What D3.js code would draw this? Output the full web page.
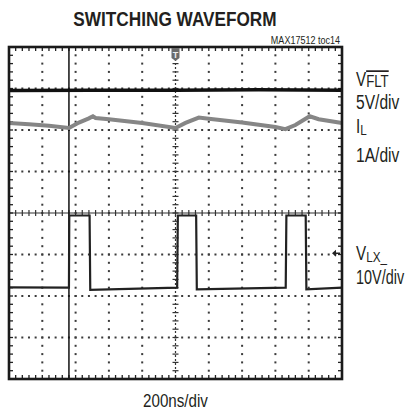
<!DOCTYPE html>
<html>
<head>
<meta charset="utf-8">
<script src="https://cdn.jsdelivr.net/npm/d3@7"></script>
<style>
  body { margin: 0; background: #fff; }
  text { font-family: "Liberation Sans", Arial, sans-serif; fill: #231f20; }
</style>
</head>
<body>
<div id="chart"></div>
<script>
// values, in divisions
// x: 0..10 (200ns/div), y: -4..4 measured from the centre line
const vfltX = [0, 2.5, 5, 7.5, 10]
const vfltY = [2.95, 2.96, 2.96, 2.97, 2.96]

const ilX = [0, 0.6, 1.2, 1.8, 2.1, 2.4, 2.52, 2.6, 3.0, 4.0, 5.0, 5.3, 5.7, 6.0, 7.0, 8.0, 8.3, 8.6, 9.03, 9.3, 10]
const ilY = [2.17, 2.14, 2.1, 2.05, 2.18, 2.28, 2.33, 2.29, 2.26, 2.17, 2.05, 2.17, 2.3, 2.27, 2.18, 2.07, 2.02, 2.12, 2.33, 2.26, 2.17]

const vlxX = [0, 1.8, 1.81, 2.42, 2.44, 5.05, 5.07, 5.62, 5.64, 8.31, 8.33, 8.91, 8.93, 10]
const vlxY = [-1.79, -1.8, -0.06, -0.06, -1.85, -1.8, -0.06, -0.06, -1.84, -1.8, -0.06, -0.06, -1.84, -1.8]

const cursorX = 1.8
const triggerX = 5
const refLevel = -0.97

const title = 'SWITCHING WAVEFORM'
const tag = 'MAX17512 toc14'
const xLabel = '200ns/div'
const labelMain = ['V', 'I', 'V']
const labelSub = ['FLT', 'L', 'LX_']
const labelScale = ['5V/div', '1A/div', '10V/div']

async function draw() {
  const width = 408
  const height = 411
  const plot = { left: 9, right: 342, top: 47, bottom: 379 }
  const narrow = 0.82   // condensed look, no narrow font installed

  const svg = d3.select('#chart')
    .append('svg')
    .attr('width', width)
    .attr('height', height)

  const xScale = d3.scaleLinear().domain([0, 10]).range([plot.left, plot.right])
  const yScale = d3.scaleLinear().domain([-4, 4]).range([plot.bottom, plot.top])

  const grid = svg.append('g').attr('fill', '#3a3a3a')

  // dotted division lines
  const xMinor = d3.range(0, 10.001, 0.2)
  const yMinor = d3.range(-4, 4.001, 0.2)
  for (let i = 1; i < 10; i++) {
    if (i === 5) continue
    grid.selectAll(null).data(yMinor).join('rect')
      .attr('x', xScale(i) - 1).attr('y', d => yScale(d) - 1)
      .attr('width', 2).attr('height', 2)
  }
  for (let j = -3; j <= 3; j++) {
    if (j === 0) continue
    grid.selectAll(null).data(xMinor).join('rect')
      .attr('x', d => xScale(d) - 1).attr('y', yScale(j) - 1)
      .attr('width', 2).attr('height', 2)
  }

  // centre axes with small ticks
  const axes = svg.append('g').attr('stroke', '#333').attr('stroke-width', 1.2)
  axes.append('line')
    .attr('x1', plot.left).attr('x2', plot.right)
    .attr('y1', yScale(0)).attr('y2', yScale(0))
  axes.selectAll(null).data(xMinor).join('line')
    .attr('x1', d => xScale(d)).attr('x2', d => xScale(d))
    .attr('y1', yScale(0) - 3).attr('y2', yScale(0) + 3)
  axes.append('line')
    .attr('x1', xScale(5)).attr('x2', xScale(5))
    .attr('y1', plot.top).attr('y2', plot.bottom)
    .attr('stroke-dasharray', '2,2')
  axes.selectAll(null).data(yMinor).join('line')
    .attr('x1', xScale(5) - 3).attr('x2', xScale(5) + 3)
    .attr('y1', d => yScale(d)).attr('y2', d => yScale(d))

  // ticks along the frame
  const edge = svg.append('g').attr('stroke', '#222').attr('stroke-width', 1.3)
  edge.selectAll(null).data(xMinor).join('line')
    .attr('x1', d => xScale(d)).attr('x2', d => xScale(d))
    .attr('y1', plot.top).attr('y2', plot.top + 4)
  edge.selectAll(null).data(xMinor).join('line')
    .attr('x1', d => xScale(d)).attr('x2', d => xScale(d))
    .attr('y1', plot.bottom).attr('y2', plot.bottom - 4)
  edge.selectAll(null).data(yMinor).join('line')
    .attr('x1', plot.left).attr('x2', plot.left + 4)
    .attr('y1', d => yScale(d)).attr('y2', d => yScale(d))
  edge.selectAll(null).data(yMinor).join('line')
    .attr('x1', plot.right).attr('x2', plot.right - 4)
    .attr('y1', d => yScale(d)).attr('y2', d => yScale(d))

  // cursor line
  svg.append('line')
    .attr('x1', xScale(cursorX)).attr('x2', xScale(cursorX))
    .attr('y1', plot.top).attr('y2', plot.bottom)
    .attr('stroke', '#111').attr('stroke-width', 1.5)

  // traces
  const line = d3.line().x(d => xScale(d[0])).y(d => yScale(d[1]))
  const traces = [
    { x: ilX, y: ilY, color: '#868686', w: 4 },
    { x: vfltX, y: vfltY, color: '#111', w: 3.5 },
    { x: vlxX, y: vlxY, color: '#222', w: 2.2 }
  ]
  svg.selectAll('path.trace')
    .data(traces)
    .join('path')
    .attr('class', 'trace')
    .attr('d', t => line(d3.zip(t.x, t.y)))
    .attr('fill', 'none')
    .attr('stroke', t => t.color)
    .attr('stroke-width', t => t.w)
    .attr('stroke-linejoin', 'miter')

  // frame
  svg.append('rect')
    .attr('x', plot.left).attr('y', plot.top)
    .attr('width', plot.right - plot.left).attr('height', plot.bottom - plot.top)
    .attr('fill', 'none').attr('stroke', '#1a1a1a').attr('stroke-width', 2.6)

  // trigger marker
  const tx = xScale(triggerX)
  svg.append('path')
    .attr('d', `M${tx - 4},${plot.top + 1} L${tx + 4},${plot.top + 1} L${tx + 4},${plot.top + 11} L${tx},${plot.top + 14} L${tx - 4},${plot.top + 11} Z`)
    .attr('fill', '#6b6b6b')
  svg.append('text')
    .attr('x', tx).attr('y', plot.top + 10.5)
    .attr('text-anchor', 'middle')
    .style('font-size', '9px').style('font-weight', 'bold').style('fill', '#eee')
    .text('T')

  // reference arrow on the right
  const ry = yScale(refLevel)
  svg.append('path')
    .attr('d', `M${plot.right - 10},${ry} L${plot.right - 6},${ry - 3.5} L${plot.right - 6},${ry + 3.5} Z M${plot.right - 6},${ry - 0.7} L${plot.right - 2},${ry - 0.7} L${plot.right - 2},${ry + 0.7} L${plot.right - 6},${ry + 0.7} Z`)
    .attr('fill', '#222')

  // texts, squeezed horizontally
  const addText = (x, y, anchor, size, weight, sx) =>
    svg.append('g')
      .attr('transform', `translate(${x},${y}) scale(${sx || narrow},1)`)
      .append('text')
      .attr('text-anchor', anchor)
      .style('font-size', size + 'px')
      .style('font-weight', weight || 'normal')

  addText(175, 26, 'middle', 21, 'bold').text(title)
  addText(340, 44, 'end', 11).text(tag)
  addText(xScale(5), 407, 'middle', 18.5).text(xLabel)

  const nameY = [86, 133, 260]
  const scaleY = [109, 162, 284]
  labelMain.forEach((m, i) => {
    const t = addText(356, nameY[i], 'start', 19.5, 'normal', 0.78)
    t.append('tspan').text(m)
    const s = t.append('tspan')
      .attr('dy', i === 0 ? 1 : 2)
      .style('font-size', i === 0 ? '17px' : '15px')
      .text(labelSub[i])
    if (i === 0) s.style('text-decoration', 'overline')
    addText(356, scaleY[i], 'start', 19.5, 'normal', i === 2 ? 0.74 : 0.8).text(labelScale[i])
  })
}

draw()
</script>
</body>
</html>
